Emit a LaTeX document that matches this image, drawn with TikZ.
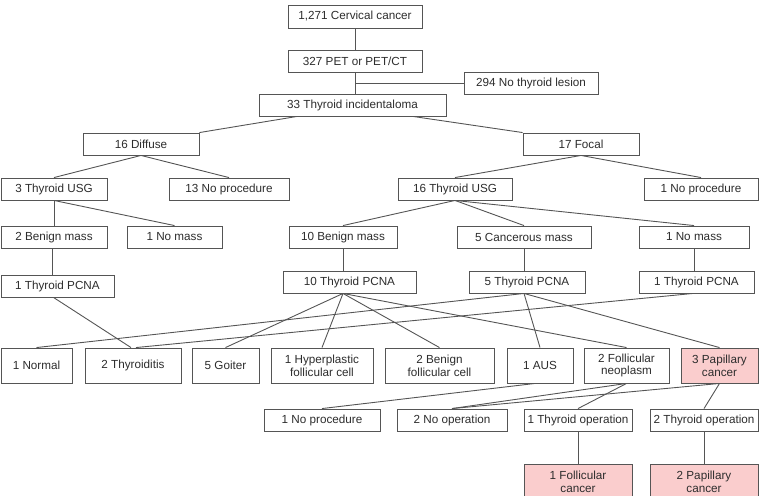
\documentclass[tikz,border=0pt]{standalone}
\usepackage{fontspec}
\setmainfont{Liberation Sans}
\definecolor{linegray}{RGB}{85,85,85}
\definecolor{textgray}{RGB}{45,45,45}
\definecolor{cancerpink}{RGB}{250,205,205}
\begin{document}
\begin{tikzpicture}[x=1pt,y=-1pt]

    \tikzset{
      box/.style={
        draw=linegray,
        line width=0.9pt,
        fill=white,
        text=textgray,
        inner sep=0pt,
        align=center,
        minimum height=22pt,
        font=\fontsize{11.7}{12.7}\selectfont,
      },
      tall/.style={box, minimum height=35pt},
      hit/.style={tall, fill=cancerpink},
      link/.style={draw=linegray, line width=0.9pt},
    }
    \useasboundingbox (0,0) rectangle (770,495);
    \clip (0,0) rectangle (770,495);

    % top of the tree
    \node[box, minimum width=134pt, minimum height=23pt] (cervical) at (355,16.5) {1,271 Cervical cancer};
    \node[box, minimum width=134pt] (pet) at (355,61) {327 PET or PET/CT};
    \node[box, minimum width=134pt] (nolesion) at (531,83) {294 No thyroid lesion};
    \node[box, minimum width=187pt] (incid) at (352.5,105) {33 Thyroid incidentaloma};
    \node[box, minimum width=116pt] (diffuse) at (141,144) {16 Diffuse};
    \node[box, minimum width=116pt] (focal) at (581,144) {17 Focal};

    \node[box, minimum width=106pt] (usgL) at (54,189) {3 Thyroid USG};
    \node[box, minimum width=120pt] (noprocL) at (229,189) {13 No procedure};
    \node[box, minimum width=114pt] (usgR) at (455,189) {16 Thyroid USG};
    \node[box, minimum width=114pt] (noprocR) at (701,189) {1 No procedure};

    \node[box, minimum width=106pt] (benignL) at (54,237) {2 Benign mass};
    \node[box, minimum width=95pt] (nomassL) at (174.5,237) {1 No mass};
    \node[box, minimum width=108pt] (benignR) at (343,237) {10 Benign mass};
    \node[box, minimum width=134pt] (cancerous) at (524,237) {5 Cancerous mass};
    \node[box, minimum width=110pt] (nomassR) at (694,237) {1 No mass};

    \node[box, minimum width=113pt] (pcnaL) at (57.5,286) {1 Thyroid PCNA};
    \node[box, minimum width=133pt] (pcnaA) at (349.5,282) {10 Thyroid PCNA};
    \node[box, minimum width=116pt] (pcnaB) at (527,282) {5 Thyroid PCNA};
    \node[box, minimum width=115pt] (pcnaC) at (696.5,282) {1 Thyroid PCNA};

    % cytology results
    \node[tall, minimum width=71pt] (normal) at (36.5,365.5) {1 Normal};
    \node[tall, minimum width=96pt] (thyroiditis) at (133,365.5) {2 Thyroiditis};
    \node[tall, minimum width=67pt] (goiter) at (225.5,365.5) {5 Goiter};
    \node[tall, minimum width=102pt] (hyper) at (322,365.5) {1 Hyperplastic\\follicular cell};
    \node[tall, minimum width=109pt] (benfol) at (439.5,365.5) {2 Benign\\follicular cell};
    \node[tall, minimum width=66pt] (aus) at (540,365.5) {1 AUS};
    \node[tall, minimum width=85pt] (follneo) at (626.5,365.5) {2 Follicular\\neoplasm};
    \node[hit, minimum width=77pt] (papill) at (719.5,365.5) {3 Papillary\\cancer};

    \node[box, minimum width=116pt] (noproc) at (322,420) {1 No procedure};
    \node[box, minimum width=110pt] (noop) at (452,420) {2 No operation};
    \node[box, minimum width=108pt] (opA) at (578,420) {1 Thyroid operation};
    \node[box, minimum width=108pt] (opB) at (704,420) {2 Thyroid operation};

    \node[hit, minimum width=108pt] (follca) at (578,481.5) {1 Follicular\\cancer};
    \node[hit, minimum width=108pt] (papca) at (704,481.5) {2 Papillary\\cancer};

    % connectors
    \coordinate (split) at (pet.south |- nolesion.west);
    \draw[link] (cervical) -- (pet);
    \draw[link] (pet.south) -- (pet.south |- incid.north);
    \draw[link] (split) -- (nolesion.west);
    \draw[link] ([xshift=-55.5pt]incid.south) -- (diffuse.north east);
    \draw[link] ([xshift=60.5pt]incid.south) -- (focal.north west);

    \draw[link] (diffuse.south) -- (usgL.north);
    \draw[link] (diffuse.south) -- (noprocL.north);
    \draw[link] (focal.south) -- (usgR.north);
    \draw[link] (focal.south) -- (noprocR.north);

    \draw[link] (usgL.south) -- (benignL.north);
    \draw[link] (usgL.south) -- (nomassL.north);
    \foreach \child in {benignR,cancerous,nomassR}
      \draw[link] (usgR.south) -- (\child.north);

    \draw[link] ([xshift=-1.5pt]benignL.south) -- ([xshift=-1.5pt]benignL.south |- pcnaL.north);
    \draw[link] (benignR.south) -- (benignR.south |- pcnaA.north);
    \draw[link] (cancerous.south) -- (cancerous.south |- pcnaB.north);
    \draw[link] (nomassR.south) -- (nomassR.south |- pcnaC.north);

    \draw[link] ([xshift=-4pt]pcnaL.south) -- ([xshift=-2pt]thyroiditis.north);
    \foreach \child in {goiter,hyper,benfol,follneo}
      \draw[link] ([xshift=-6.5pt]pcnaA.south) -- (\child.north);
    \foreach \child in {normal,aus,papill}
      \draw[link] ([xshift=-3pt]pcnaB.south) -- (\child.north);
    \draw[link] ([xshift=-3.5pt]pcnaC.south) -- ([xshift=3pt]thyroiditis.north);

    \draw[link] ([xshift=-5pt]aus.south) -- (noproc.north);
    \draw[link] (follneo.south) -- (noop.north);
    \draw[link] (follneo.south) -- (opA.north);
    \draw[link] (papill.south) -- (noop.north);
    \draw[link] (papill.south) -- (opB.north);

    \draw[link] (opA) -- (follca);
    \draw[link] (opB) -- (papca);

\end{tikzpicture}
\end{document}
